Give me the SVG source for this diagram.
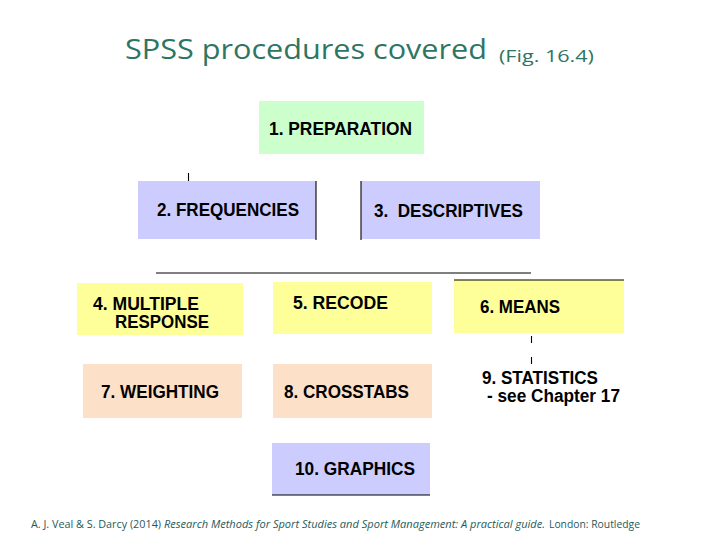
<svg xmlns="http://www.w3.org/2000/svg" width="720" height="540" viewBox="0 0 720 540">
<style>
.lbl{font-family:"Liberation Sans",Arial,sans-serif;font-weight:bold;font-size:18px;fill:#000;white-space:pre}
.green{fill:#ccffcc}
.lav{fill:#ccccff}
.yel{fill:#ffff99}
.peach{fill:#fde0c8}
.ln{stroke:#000;stroke-width:1.1;fill:none}
.title{font-family:"Open Sans","Noto Sans",sans-serif;fill:#2f7563}
.foot{font-family:"Open Sans","Noto Sans",sans-serif;font-size:10px;fill:#1f5a5a}
</style>
<rect width="720" height="540" fill="#fff"/>
<text class="title" x="125" y="59" font-size="28" textLength="362" lengthAdjust="spacingAndGlyphs">SPSS procedures covered</text>
<text class="title" x="499" y="62" font-size="17" textLength="95" lengthAdjust="spacingAndGlyphs">(Fig. 16.4)</text>

<g id="n1"><rect class="green" x="259" y="101" width="165" height="53"/><text class="lbl" x="269" y="135" textLength="143" lengthAdjust="spacingAndGlyphs">1. PREPARATION</text></g>
<g id="n2"><rect class="lav" x="138" y="181" width="178" height="58"/><text class="lbl" x="157" y="216" textLength="142" lengthAdjust="spacingAndGlyphs">2. FREQUENCIES</text></g>
<g id="n3"><rect class="lav" x="361" y="181" width="179" height="58"/><text class="lbl" x="374" y="217" textLength="149" lengthAdjust="spacingAndGlyphs">3.  DESCRIPTIVES</text></g>
<g id="n4"><rect class="yel" x="77" y="283" width="166" height="52"/><text class="lbl" x="93" y="310" textLength="106" lengthAdjust="spacingAndGlyphs">4. MULTIPLE</text><text class="lbl" x="115" y="328" textLength="94" lengthAdjust="spacingAndGlyphs">RESPONSE</text></g>
<g id="n5"><rect class="yel" x="273" y="282" width="159" height="52"/><text class="lbl" x="293" y="309" textLength="95" lengthAdjust="spacingAndGlyphs">5. RECODE</text></g>
<g id="n6"><rect class="yel" x="454" y="280" width="170" height="53"/><text class="lbl" x="480" y="313" textLength="80" lengthAdjust="spacingAndGlyphs">6. MEANS</text></g>
<g id="n7"><rect class="peach" x="83" y="364" width="159" height="54"/><text class="lbl" x="101" y="398" textLength="118" lengthAdjust="spacingAndGlyphs">7. WEIGHTING</text></g>
<g id="n8"><rect class="peach" x="273" y="364" width="159" height="54"/><text class="lbl" x="284" y="398" textLength="125" lengthAdjust="spacingAndGlyphs">8. CROSSTABS</text></g>
<g id="n9"><text class="lbl" x="482" y="384" textLength="116" lengthAdjust="spacingAndGlyphs">9. STATISTICS</text><text class="lbl" x="487" y="402" textLength="133" lengthAdjust="spacingAndGlyphs">- see Chapter 17</text></g>
<g id="n10"><rect class="lav" x="272" y="443" width="158" height="52"/><text class="lbl" x="295" y="475" textLength="120" lengthAdjust="spacingAndGlyphs">10. GRAPHICS</text></g>

<g id="connectors">
<line class="ln" x1="188.5" y1="173" x2="188.5" y2="181"/>
<line class="ln" x1="316" y1="181" x2="316" y2="240"/>
<line class="ln" x1="361" y1="181" x2="361" y2="240"/>
<line class="ln" x1="156" y1="273" x2="531" y2="273"/>
<line class="ln" x1="454" y1="280" x2="624" y2="280"/>
<line class="ln" x1="531.5" y1="336" x2="531.5" y2="343"/>
<line class="ln" x1="531.5" y1="357" x2="531.5" y2="364"/>
<line class="ln" x1="272" y1="495" x2="430" y2="495"/>
</g>

<text class="foot" x="31" y="528" textLength="130" lengthAdjust="spacingAndGlyphs">A. J. Veal &amp; S. Darcy (2014)</text>
<text class="foot" x="164" y="528" font-style="italic" textLength="381" lengthAdjust="spacingAndGlyphs">Research Methods for Sport Studies and Sport Management: A practical guide.</text>
<text class="foot" x="549" y="528" textLength="91" lengthAdjust="spacingAndGlyphs">London: Routledge</text>
</svg>
